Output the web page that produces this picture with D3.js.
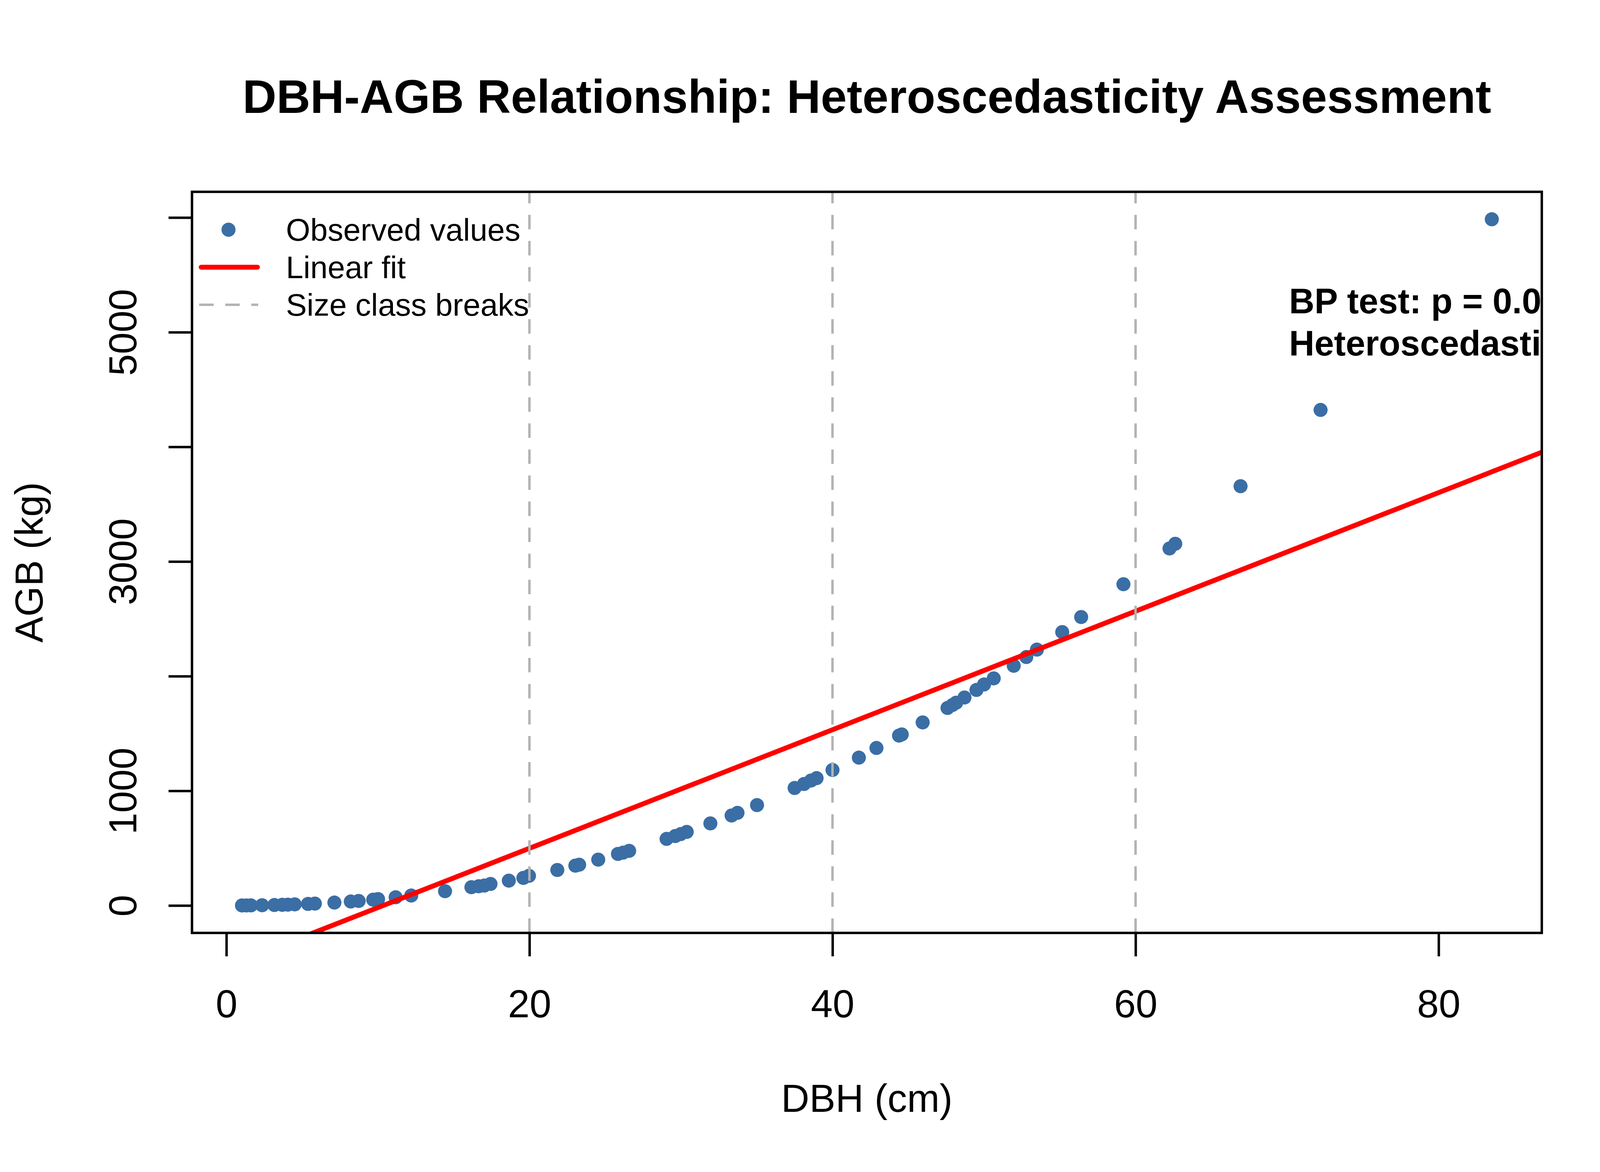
<!DOCTYPE html>
<html>
<head>
<meta charset="utf-8">
<script src="https://cdn.jsdelivr.net/npm/d3@7"></script>
<style>
  body { margin: 0; padding: 0; background: #fff; }
  text { font-family: "Liberation Sans", Arial, Helvetica, sans-serif; }
</style>
</head>
<body>
<div id="chart"></div>
<script>
// tree data
const dbh = [1.03, 1.33, 1.62, 2.36, 3.17, 3.69, 4.06, 4.51, 5.39, 5.84,
  7.13, 8.21, 8.73, 9.69, 10.01, 11.17, 12.2, 14.43, 16.17, 16.65,
  17.02, 17.43, 18.64, 19.6, 19.97, 21.84, 23.03, 23.28, 24.54, 25.84,
  26.18, 26.58, 29.05, 29.62, 29.98, 30.38, 31.94, 33.34, 33.73, 35.02,
  37.5, 38.12, 38.58, 38.95, 40.0, 41.74, 42.9, 44.39, 44.57, 45.95,
  47.59, 47.92, 48.16, 48.71, 49.5, 50.0, 50.64, 51.96, 52.79, 53.49,
  55.16, 56.41, 59.2, 62.24, 62.62, 66.93, 72.21, 83.51];
const agb = [0.5, 0.8, 1.0, 2.3, 4.4, 6.2, 7.7, 9.9, 14, 17,
  26, 35, 40, 51, 56, 72, 87, 125, 160, 168,
  174, 188, 217, 241, 259, 310, 348, 356, 400, 450,
  461, 477, 581, 606, 623, 642, 716, 785, 808, 876,
  1025, 1060, 1090, 1111, 1182, 1290, 1374, 1482, 1492, 1597,
  1723, 1749, 1769, 1814, 1880, 1928, 1981, 2091, 2167, 2232,
  2385, 2516, 2802, 3114, 3155, 3657, 4322, 5985];

// linear fit coefficients
const fitIntercept = -535;
const fitSlope = 51.7;

const sizeBreaks = [20, 40, 60];
const xTicks = [0, 20, 40, 60, 80];
const yTicks = [0, 1000, 2000, 3000, 4000, 5000, 6000];
const yTickLabels = [0, 1000, 3000, 5000];

const legendLabels = ["Observed values", "Linear fit", "Size class breaks"];
const noteLines = ["BP test: p = 0.000", "Heteroscedasticity detected"];

const W = 4200, H = 3000;
const plot = { left: 491.5, right: 3947, top: 491, bottom: 2388 };
const ptColor = "#3a6ea5";
const lineW = 6.25;

// R style 4% padding
function padded(vals) {
  const e = d3.extent(vals), p = (e[1] - e[0]) * 0.04;
  return [e[0] - p, e[1] + p];
}

const x = d3.scaleLinear().domain(padded(dbh)).range([plot.left, plot.right]);
const y = d3.scaleLinear().domain(padded(agb)).range([plot.bottom, plot.top]);

const svg = d3.select('#chart').append('svg')
  .attr('width', W).attr('height', H)
  .style('background', '#fff');

svg.append('defs').append('clipPath').attr('id', 'plotclip')
  .append('rect')
  .attr('x', plot.left).attr('y', plot.top)
  .attr('width', plot.right - plot.left).attr('height', plot.bottom - plot.top);

const inner = svg.append('g').attr('clip-path', 'url(#plotclip)');

// points
inner.selectAll('circle.obs')
  .data(dbh.map((d, i) => [d, agb[i]]))
  .enter().append('circle')
  .attr('class', 'obs')
  .attr('cx', d => x(d[0]))
  .attr('cy', d => y(d[1]))
  .attr('r', 18)
  .attr('fill', ptColor);

// fitted line across the plot
const xd = x.domain();
inner.append('line')
  .attr('x1', x(xd[0])).attr('y1', y(fitIntercept + fitSlope * xd[0]))
  .attr('x2', x(xd[1])).attr('y2', y(fitIntercept + fitSlope * xd[1]))
  .attr('stroke', '#ff0000').attr('stroke-width', 12.5);

// size class breaks, drawn bottom -> top like abline
inner.selectAll('line.brk')
  .data(sizeBreaks)
  .enter().append('line')
  .attr('class', 'brk')
  .attr('x1', d => x(d)).attr('x2', d => x(d))
  .attr('y1', plot.bottom).attr('y2', plot.top)
  .attr('stroke', '#b3b3b3').attr('stroke-width', lineW)
  .attr('stroke-dasharray', '37,29.7');

// note text, clipped at the plot edge
inner.selectAll('text.note')
  .data(noteLines)
  .enter().append('text')
  .attr('class', 'note')
  .attr('x', 3300)
  .attr('y', (d, i) => 802 + i * 108)
  .attr('font-size', 90).attr('font-weight', 'bold')
  .text(d => d);

// axes
const xAxis = svg.append('g')
  .attr('transform', 'translate(0,' + plot.bottom + ')')
  .call(d3.axisBottom(x).tickValues(xTicks).tickSize(60).tickSizeOuter(0));
xAxis.select('.domain').remove();
xAxis.selectAll('line').attr('stroke', '#000').attr('stroke-width', lineW);
xAxis.selectAll('text')
  .attr('y', 216).attr('dy', 0)
  .attr('font-size', 100).attr('fill', '#000')
  .style('font-family', '"Liberation Sans", Arial, sans-serif');

const yAxis = svg.append('g')
  .attr('transform', 'translate(' + plot.left + ',0)')
  .call(d3.axisLeft(y).tickValues(yTicks).tickSize(60).tickSizeOuter(0)
    .tickFormat(d => yTickLabels.includes(d) ? String(d) : ''));
yAxis.select('.domain').remove();
yAxis.selectAll('line').attr('stroke', '#000').attr('stroke-width', lineW);
yAxis.selectAll('text')
  .attr('x', 0).attr('dy', 0)
  .attr('transform', 'translate(-142.5,0) rotate(-90)')
  .attr('text-anchor', 'middle')
  .attr('font-size', 100).attr('fill', '#000')
  .style('font-family', '"Liberation Sans", Arial, sans-serif');

// box
svg.append('rect')
  .attr('x', plot.left).attr('y', plot.top)
  .attr('width', plot.right - plot.left).attr('height', plot.bottom - plot.top)
  .attr('fill', 'none').attr('stroke', '#000').attr('stroke-width', lineW);

// titles
const cx = (plot.left + plot.right) / 2;
svg.append('text')
  .attr('x', cx).attr('y', 289)
  .attr('text-anchor', 'middle')
  .attr('font-size', 120).attr('font-weight', 'bold')
  .text('DBH-AGB Relationship: Heteroscedasticity Assessment');
svg.append('text')
  .attr('x', cx).attr('y', 2846)
  .attr('text-anchor', 'middle')
  .attr('font-size', 100)
  .text('DBH (cm)');
svg.append('text')
  .attr('transform', 'translate(108.7,' + ((plot.top + plot.bottom) / 2) + ') rotate(-90)')
  .attr('text-anchor', 'middle')
  .attr('font-size', 100)
  .text('AGB (kg)');

// legend, no box
const legRows = [588, 684, 780];
const leg = svg.append('g');
leg.append('circle')
  .attr('cx', 585).attr('cy', legRows[0]).attr('r', 18).attr('fill', ptColor);
leg.append('line')
  .attr('x1', 515).attr('x2', 659)
  .attr('y1', legRows[1]).attr('y2', legRows[1])
  .attr('stroke', '#ff0000').attr('stroke-width', 12.5)
  .attr('stroke-linecap', 'round');
leg.append('line')
  .attr('x1', 510).attr('x2', 661)
  .attr('y1', legRows[2]).attr('y2', legRows[2])
  .attr('stroke', '#b3b3b3').attr('stroke-width', lineW)
  .attr('stroke-dasharray', '37,29.7');
leg.selectAll('text')
  .data(legendLabels)
  .enter().append('text')
  .attr('x', 732)
  .attr('y', (d, i) => legRows[i] + 28)
  .attr('font-size', 80)
  .text(d => d);
</script>
</body>
</html>
